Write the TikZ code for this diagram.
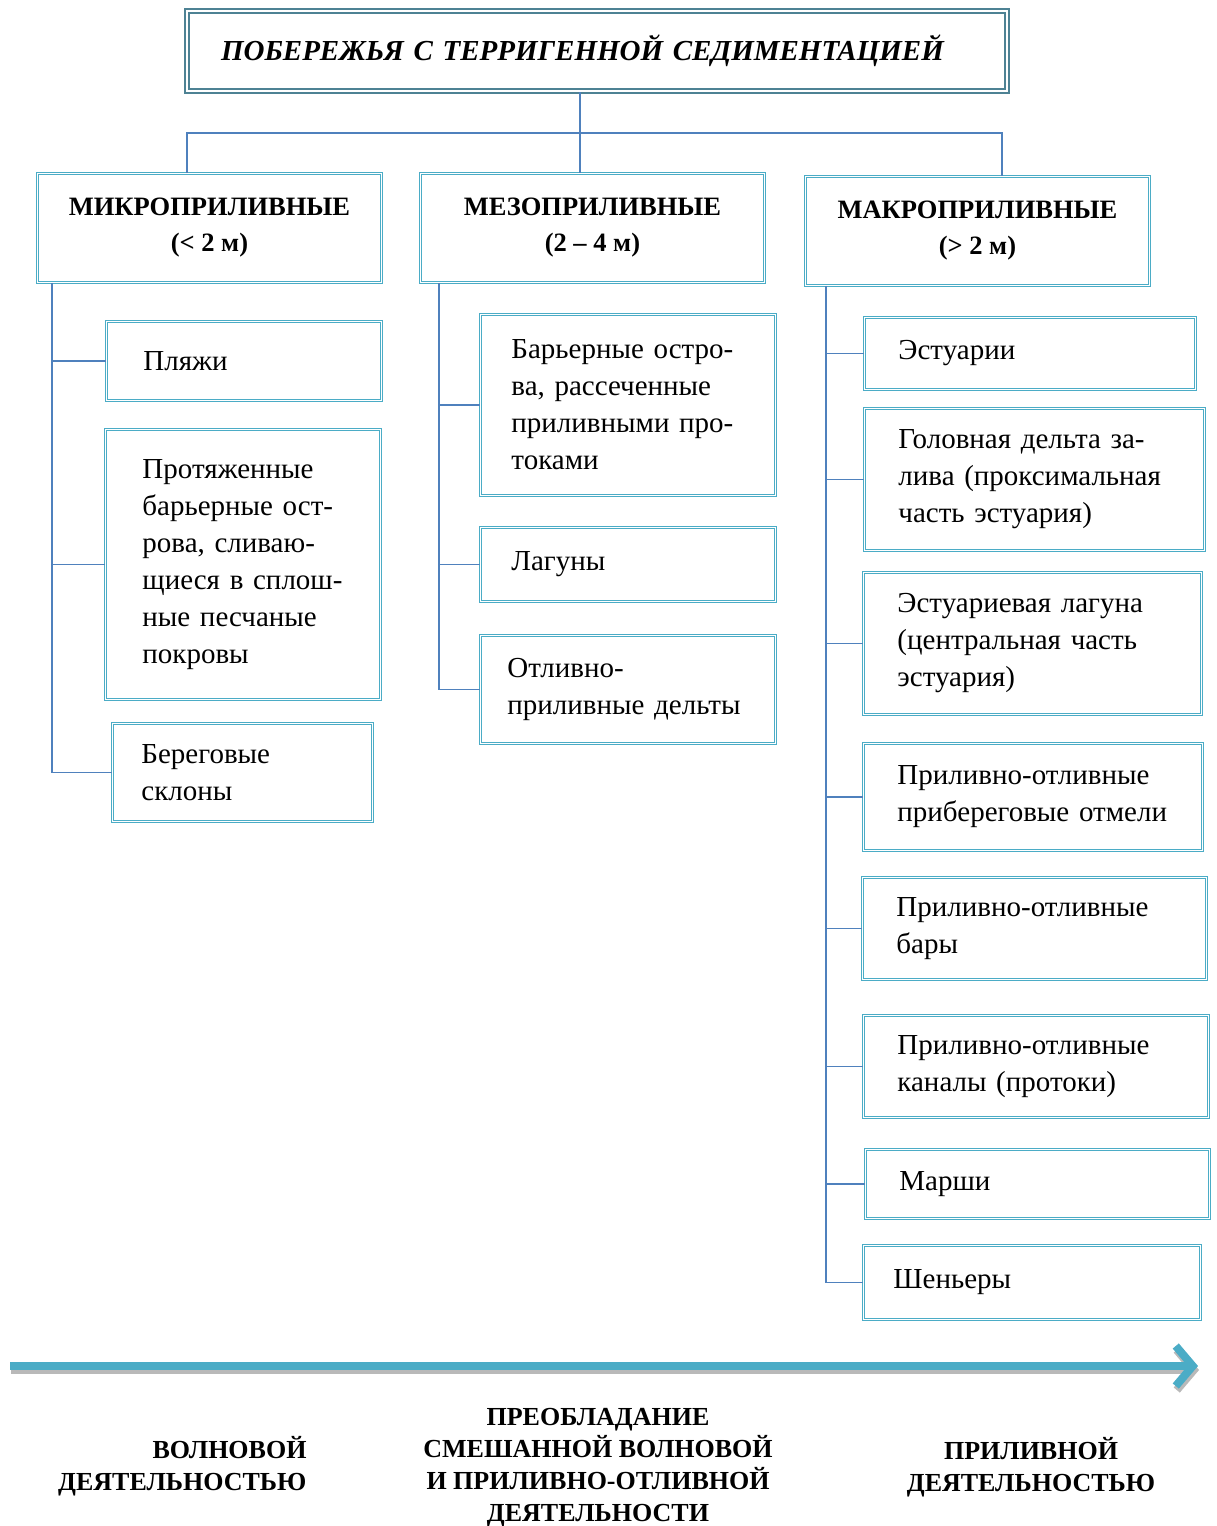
\documentclass[tikz,border=0pt]{standalone}
\usepackage{fontspec}
\setmainfont{Liberation Serif}
\usetikzlibrary{positioning,arrows.meta,shadows}
\definecolor{frame}{HTML}{4BACC6}
\definecolor{link}{HTML}{4F81BD}
\definecolor{titleedge}{HTML}{4E8294}
\definecolor{flow}{HTML}{4BACC6}

\begin{document}
\begin{tikzpicture}[x=1pt, y=-1pt,
      item/.style={draw=frame, double=white, line width=0.9pt, double distance=1.8pt, anchor=north west,
        align=left, inner xsep=34pt, inner ysep=0pt, font=\fontsize{29}{37}\selectfont},
      head/.style={draw=frame, double=white, line width=0.9pt, double distance=1.8pt, anchor=north west,
        align=center, inner sep=0pt, minimum width=344pt, minimum height=109pt, font=\fontsize{26.5}{36}\selectfont\bfseries},
      link/.style={draw=link, line width=1.4pt},
      foot/.style={font=\fontsize{26}{32}\selectfont\bfseries}]
    \useasboundingbox[fill=white] (0,0) rectangle (1216,1526);

    % title and level headers
    \node[draw=titleedge, fill=white, double=white, line width=2pt, double distance=2.5pt, anchor=north west,
      minimum height=80pt, text width=752pt, inner xsep=34pt, align=left,
      drop shadow={shadow xshift=2pt, shadow yshift=-3pt, fill=gray!70},
      font=\fontsize{29}{37}\selectfont\bfseries\itshape] (title) at (186,10)
      {ПОБЕРЕЖЬЯ С ТЕРРИГЕННОЙ СЕДИМЕНТАЦИЕЙ};
    \node[head] (micro) at (37,173) {МИКРОПРИЛИВНЫЕ\\(< 2 м)};
    \node[head] (meso) at (420,173) {МЕЗОПРИЛИВНЫЕ\\(2 – 4 м)};
    \node[head] (macro) at (805,176) {МАКРОПРИЛИВНЫЕ\\(> 2 м)};

    % micro-tidal
    \node[item, inner xsep=37pt, text width=201pt, minimum height=79pt] (beach) at (106,321) {Пляжи};
    \node[item, inner xsep=37pt, text width=201pt, minimum height=270pt] (barrier) at (105,429)
      {Протяженные\\барьерные~ост-\\рова,~сливаю-\\щиеся~в~сплош-\\ные~песчаные\\покровы};
    \node[item, inner xsep=29pt, text width=202pt, minimum height=98pt] (slopes) at (112,723)
      {Береговые\\склоны};

    % meso-tidal
    \node[item, inner xsep=31pt, text width=233pt, minimum height=181pt] (inlets) at (480,314)
      {Барьерные~остро-\\ва,~рассеченные\\приливными~про-\\токами};
    \node[item, inner xsep=31pt, text width=233pt, minimum height=74pt] (lagoons) at (480,527) {Лагуны};
    \node[item, inner xsep=27pt, text width=241pt, minimum height=108pt] (deltas) at (480,635)
      {Отливно-\\приливные~дельты};

    % macro-tidal
    \node[item, text width=263pt, minimum height=72pt] (estuary) at (864,317) {Эстуарии};
    \node[item, text width=272pt, minimum height=142pt] (headdelta) at (864,408)
      {Головная~дельта~за-\\лива~(проксимальная\\часть~эстуария)};
    \node[item, text width=270pt, minimum height=142pt] (lagoon2) at (863,572)
      {Эстуариевая~лагуна\\(центральная~часть\\эстуария)};
    \node[item, text width=271pt, minimum height=107pt] (flats) at (863,743)
      {Приливно-отливные\\прибереговые~отмели};
    \node[item, text width=276pt, minimum height=102pt] (bars) at (862,877)
      {Приливно-отливные\\бары};
    \node[item, text width=277pt, minimum height=102pt] (channels) at (863,1015)
      {Приливно-отливные\\каналы~(протоки)};
    \node[item, text width=276pt, minimum height=69pt] (marsh) at (865,1149) {Марши};
    \node[item, inner xsep=30pt, text width=277pt, minimum height=74pt] (chenier) at (863,1245) {Шеньеры};

    % tree connectors
    \coordinate (hub) at (580,133);
    \coordinate (hubl) at (187,133);
    \coordinate (hubr) at (1002,133);
    \draw[link] (hub |- title.south) -- (hub |- meso.north);
    \draw[link] (hubl |- micro.north) -- (hubl) -- (hubr) -- (hubr |- macro.north);

    \coordinate (spinel) at (52,0);
    \coordinate (spinem) at (439,0);
    \coordinate (spiner) at (826,0);
    \draw[link] (spinel |- micro.south) |- (slopes.west);
    \foreach \b in {beach, barrier}
      \draw[link] (spinel |- \b.west) -- (\b.west);
    \draw[link] (spinem |- meso.south) |- (deltas.west);
    \foreach \b in {inlets, lagoons}
      \draw[link] (spinem |- \b.west) -- (\b.west);
    \draw[link] (spiner |- macro.south) |- (chenier.west);
    \foreach \b in {estuary, headdelta, lagoon2, flats, bars, channels, marsh}
      \draw[link] (spiner |- \b.west) -- (\b.west);

    % direction arrow
    \coordinate (flowstart) at (10,1366);
    \coordinate (flowend) at (1198,1366);
    \draw[gray!55, line width=8pt, -{Straight Barb[length=17pt, width=40pt]}]
      ([shift={(1,4)}]flowstart) -- ([shift={(1,4)}]flowend);
    \draw[flow, line width=8pt, -{Straight Barb[length=17pt, width=40pt]}] (flowstart) -- (flowend);

    % labels under the arrow
    \node[foot, align=right, anchor=east] (wave) at (310,1466) {ВОЛНОВОЙ\\ДЕЯТЕЛЬНОСТЬЮ};
    \node[foot, align=center] (mixed) at (598,1468)
      {ПРЕОБЛАДАНИЕ\\СМЕШАННОЙ ВОЛНОВОЙ\\И ПРИЛИВНО-ОТЛИВНОЙ\\ДЕЯТЕЛЬНОСТИ};
    \node[foot, align=center] (tidal) at (1031,1467) {ПРИЛИВНОЙ\\ДЕЯТЕЛЬНОСТЬЮ};
  \end{tikzpicture}
\end{document}
